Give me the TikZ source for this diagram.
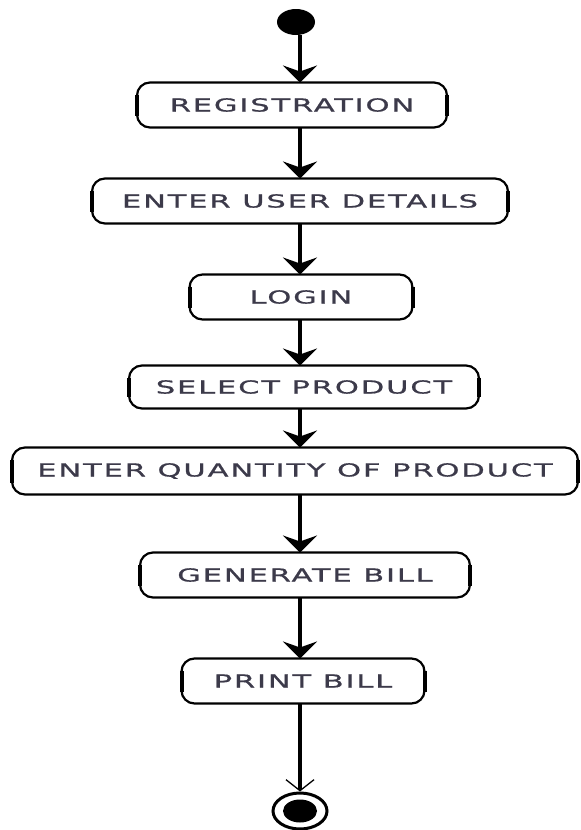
\documentclass[tikz,border=0pt]{standalone}
\usepackage{fontspec}
\usetikzlibrary{arrows.meta,shapes.geometric}
\newfontfamily\actfont[FakeStretch=1.7,LetterSpace=10,FakeBold=0.8]{DejaVu Sans}
\definecolor{ActText}{HTML}{3C3A4A}
\tikzset{
  flow/.style={-{Stealth[length=17pt,width=34pt,inset=6pt]},line width=4pt},
  flowend/.style={-{Straight Barb[length=11pt,width=28pt,line width=1.3pt]},line width=4pt},
  activity/.style={draw,line width=2.2pt,rounded corners=13pt,fill=white,outer sep=0pt,
                   text=ActText,font=\actfont\fontsize{18}{20}\selectfont,
                   minimum height=45pt,inner xsep=16pt},
  side/.style={line width=4pt},
  initial/.style={ellipse,fill=black,minimum width=38pt,minimum height=26pt,inner sep=0pt},
  final/.style={ellipse,draw,line width=3pt,minimum width=54pt,minimum height=36pt,inner sep=0pt},
}
\begin{document}
\begin{tikzpicture}[x=1pt,y=-1pt]
    \useasboundingbox (0,0) rectangle (581,830);
    \coordinate (axis) at (300,0);

    \node[initial] (start) at (296,22) {};

    \node[activity,minimum width=310pt] (reg) at (292,105) {REGISTRATION};
    \node[activity,minimum width=416pt] (details) at (300,201) {ENTER USER DETAILS};
    \node[activity,minimum width=223pt] (login) at (301,297) {LOGIN};
    \node[activity,minimum width=350pt,minimum height=43pt] (select) at (304,387) {SELECT PRODUCT};
    \node[activity,minimum width=566pt,minimum height=47pt,inner xsep=8pt] (qty) at (295,471) {ENTER QUANTITY OF PRODUCT};
    \node[activity,minimum width=330pt] (bill) at (305,575) {GENERATE BILL};
    \node[activity,minimum width=243pt] (print) at (303,681) {PRINT BILL};

    % heavier left and right sides of the activity boxes
    \foreach \n in {reg,details,login,select,qty,bill,print}{
      \draw[side] ([yshift=-12pt]\n.north west) -- ([yshift=12pt]\n.south west);
      \draw[side] ([yshift=-12pt]\n.north east) -- ([yshift=12pt]\n.south east);
    }

    \node[final] (stop) at (300,811) {};
    \fill (stop) ellipse (17pt and 11.5pt);

    \draw[flow] (start.south -| axis) -- (reg.north -| axis);
    \draw[flow] (reg.south -| axis) -- (details.north -| axis);
    \draw[flow] (details.south -| axis) -- (login.north -| axis);
    \draw[flow] (login.south -| axis) -- (select.north -| axis);
    \draw[flow] (select.south -| axis) -- (qty.north -| axis);
    \draw[flow] (qty.south -| axis) -- (bill.north -| axis);
    \draw[flow] (bill.south -| axis) -- (print.north -| axis);
    \draw[flowend] (print.south -| axis) -- (stop);
\end{tikzpicture}
\end{document}
